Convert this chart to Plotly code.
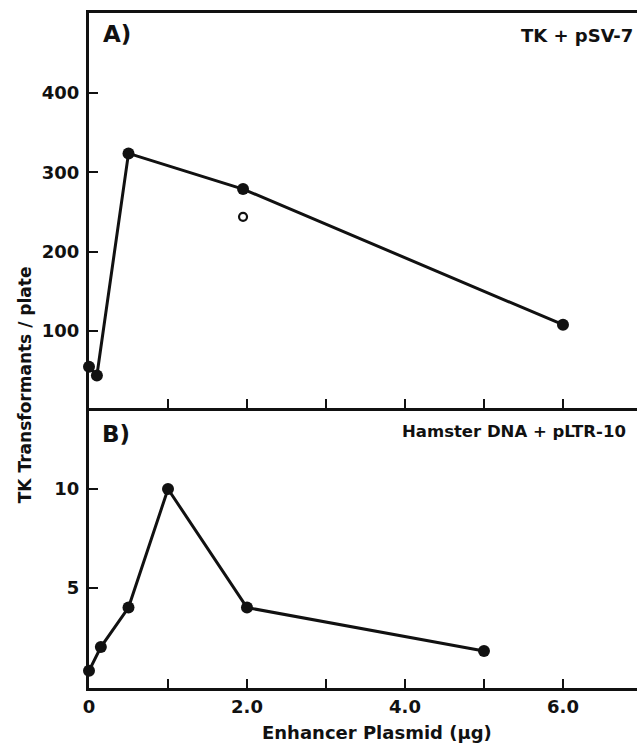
import plotly.graph_objects as go
from plotly.subplots import make_subplots

# Panel A: TK + pSV-7
dose_a = [0, 0.1, 0.5, 1.95, 6.0]
tk_a = [55, 44, 324, 279, 108]
open_dose_a = [1.95]
open_tk_a = [244]

# Panel B: Hamster DNA + pLTR-10
dose_b = [0, 0.15, 0.5, 1.0, 2.0, 5.0]
tk_b = [0.8, 2.0, 4.0, 10.0, 4.0, 1.8]

x_tickvals = [0, 1, 2, 3, 4, 5, 6, 7]
x_ticktext = ["0", "", "2.0", "", "4.0", "", "6.0", ""]
ya_tickvals = [100, 200, 300, 400]
yb_tickvals = [5, 10]
yb_ticktext = ["5", "10"]

FONT = "DejaVu Sans"
BLACK = "#111111"

fig = make_subplots(rows=2, cols=1, shared_xaxes=False, vertical_spacing=0)

fig.add_trace(go.Scatter(x=dose_a, y=tk_a, mode="lines+markers",
                         line=dict(color=BLACK, width=3),
                         marker=dict(color=BLACK, size=12),
                         cliponaxis=False, showlegend=False), row=1, col=1)
fig.add_trace(go.Scatter(x=open_dose_a, y=open_tk_a, mode="markers",
                         marker=dict(color="white", size=8, symbol="circle",
                                     line=dict(color=BLACK, width=2.2)),
                         cliponaxis=False, showlegend=False), row=1, col=1)
fig.add_trace(go.Scatter(x=dose_b, y=tk_b, mode="lines+markers",
                         line=dict(color=BLACK, width=3),
                         marker=dict(color=BLACK, size=12),
                         cliponaxis=False, showlegend=False), row=2, col=1)

split = 0.4148
axis_common = dict(showline=True, linecolor=BLACK, linewidth=3, showgrid=False,
                   zeroline=False, ticks="inside", tickcolor=BLACK, tickwidth=2,
                   ticklen=9)
tickfont = dict(family=FONT, size=18, color=BLACK, weight="bold")

fig.update_xaxes(range=[0, 6.937], tickvals=x_tickvals, ticktext=x_ticktext,
                 **axis_common)
fig.update_xaxes(showticklabels=False, mirror=True, row=1, col=1)
fig.update_xaxes(showticklabels=True, mirror=False, tickfont=tickfont, row=2, col=1)

fig.update_yaxes(**axis_common)
fig.update_yaxes(range=[3, 501], tickvals=ya_tickvals, domain=[split, 1],
                 tickfont=tickfont, ticklabelstandoff=3, row=1, col=1)
fig.update_yaxes(range=[-0.07, 14.1], tickvals=yb_tickvals, ticktext=yb_ticktext,
                 domain=[0, split], tickfont=tickfont, ticklabelstandoff=3,
                 row=2, col=1)

ann_font = dict(family=FONT, color=BLACK, weight="bold")
annotations = [
    dict(text="A)", x=0.022, y=0.9696, xanchor="left", yanchor="middle",
         font=dict(size=23, **ann_font)),
    dict(text="TK + pSV-7", x=0.9964, y=0.967, xanchor="right", yanchor="middle",
         font=dict(size=18, **ann_font)),
    dict(text="B)", x=0.02, y=0.376, xanchor="left", yanchor="middle",
         font=dict(size=23, **ann_font)),
    dict(text="Hamster DNA + pLTR-10", x=0.9836, y=0.380, xanchor="right", yanchor="middle",
         font=dict(size=16.5, **ann_font)),
    dict(text="TK Transformants / plate", x=-0.1168, y=0.45, xanchor="center",
         yanchor="middle", textangle=-90, font=dict(size=17, **ann_font)),
    dict(text="Enhancer Plasmid (µg)", x=0.5255, y=-0.0652, xanchor="center",
         yanchor="middle", font=dict(size=18, **ann_font)),
]
for a in annotations:
    a.update(xref="paper", yref="paper", showarrow=False)

fig.update_layout(width=637, height=743, margin=dict(l=89, r=0, t=13, b=55),
                  paper_bgcolor="white", plot_bgcolor="white",
                  annotations=annotations)

fig.write_html("out.html", config={"displayModeBar": False})

# remove the browser's default page margin so the figure fills the window exactly
with open("out.html", "r", encoding="utf-8") as f:
    html = f.read()
html = html.replace("<head>", "<head><style>html,body{margin:0;padding:0;overflow:hidden;}</style>", 1)
with open("out.html", "w", encoding="utf-8") as f:
    f.write(html)
